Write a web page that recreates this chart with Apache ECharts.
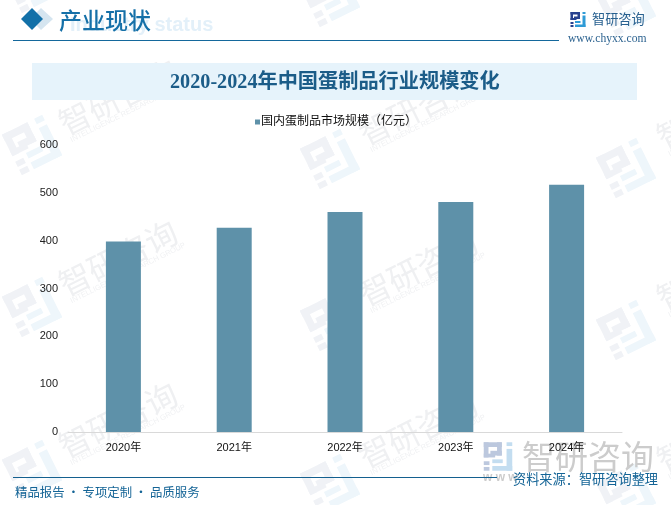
<![CDATA[<!DOCTYPE html>
<html><head><meta charset="utf-8">
<style>html,body{margin:0;padding:0;background:#fff}#c{width:671px;height:505px}</style>
<script src="https://cdn.jsdelivr.net/npm/echarts@6/dist/echarts.min.js"></script>
</head><body><div id="c"></div>
<script>
const categories = ['2020年','2021年','2022年','2023年','2024年'];
const seriesName = '国内蛋制品市场规模（亿元）';
const marketSize = [398, 427, 460, 481, 517];
const chartTitle = '2020-2024年中国蛋制品行业规模变化';
const headerText = '产业现状';
const headerEnglish = 'Industry status';
const brandName = '智研咨询';
const brandSub = 'INTELLIGENCE RESEARCH GROUP';
const siteUrl = 'www.chyxx.com';
const footerLeft = '精品报告 · 专项定制 · 品质服务';
const footerRight = '资料来源：智研咨询整理';

const CJK = '"Liberation Sans","Noto Sans CJK SC",sans-serif';
const SERIF = '"Liberation Serif","Noto Sans CJK SC",serif';

function logoShapes(c1, c2) {
  const r = (x, y, w, h, f) => ({type: 'rect', shape: {x: x - 15, y: y - 15, width: w, height: h}, style: {fill: f}, silent: true});
  return [
    r(0, 0, 19, 5, c1), r(0, 0, 5, 16, c1), r(14, 0, 5, 14, c1), r(0, 12, 12, 4, c1),
    r(7, 9, 12, 5, c1), r(0, 20, 6, 4, c1), r(0, 26, 6, 4, c1),
    r(24, 0, 6, 4, c2), r(24, 7, 6, 23, c2), r(9, 25, 21, 5, c2), r(9, 18, 11, 4, c2)
  ];
}
function logo(x, y, s, rot, c1, c2) {
  return {type: 'group', x, y, scaleX: s, scaleY: s, rotation: rot, silent: true, children: logoShapes(c1, c2)};
}
function txt(x, y, text, font, fill, align, rot) {
  return {type: 'text', x, y, rotation: rot || 0, silent: true,
    style: {text, font, fill, align: align || 'left', verticalAlign: 'middle'}};
}

const graphics = [];
const ROT = 0.46;
const logoCols = [[32, 0], [330, 14], [626, 23]];
const rowYs = [-17, 145, 307, 470];
logoCols.forEach(([lx, dy]) => rowYs.forEach(ry => {
  graphics.push(logo(lx, ry + dy, 1.5, ROT, '#f0f2f6', '#eef6fb'));
}));
const textCols = [[118, 0], [418, 10], [716, 14]];
const textRows = [-64, 97, 258, 420];
textCols.forEach(([tx, dy]) => textRows.forEach(ty => {
  graphics.push(txt(tx, ty + dy, brandName, '32px "Noto Sans CJK SC"', '#eff0f2', 'center', ROT));
  graphics.push(txt(tx + 10, ty + dy + 15, brandSub, '7.5px "Liberation Sans"', '#f0f1f3', 'center', ROT));
}));

// header
graphics.push({type: 'polygon', silent: true, shape: {points: [[41, 8], [53, 19], [41, 30], [30, 19]]}, style: {fill: '#d5e5f0'}});
graphics.push({type: 'polygon', silent: true, shape: {points: [[32, 8], [43, 19], [32, 30], [21, 19]]}, style: {fill: '#1270a8'}});
graphics.push(txt(70, 25, headerEnglish, 'bold 20px "Liberation Sans"', '#e3f0f9'));
graphics.push(txt(59, 20, headerText, '500 23px "Noto Sans CJK SC"', '#1570a8'));
graphics.push({type: 'rect', silent: true, shape: {x: 13, y: 40, width: 546, height: 1}, style: {fill: '#14689c'}});
graphics.push(logo(578, 19.5, 0.5, 0, '#27418f', '#2f9bd6'));
graphics.push(txt(592, 19, brandName, '13.2px "Noto Sans CJK SC"', '#27608f'));
graphics.push(txt(568, 39, siteUrl, '11.6px "Liberation Serif"', '#2d6390'));

// title band
graphics.push({type: 'rect', silent: true, shape: {x: 32, y: 63, width: 605, height: 37}, style: {fill: '#e6f3fb'}});
graphics.push(txt(170, 83, chartTitle, 'bold 20.2px ' + SERIF, '#1b5c88'));

// lower right watermark
graphics.push(logo(498, 456.5, 0.95, 0, '#bcc8de', '#c3ddf0'));
graphics.push(txt(522, 456, brandName, '33px "Noto Sans CJK SC"', '#cccccc'));
graphics.push(txt(483, 478, 'w w w', 'bold 12px "Liberation Sans"', '#cccccc'));

// footer
graphics.push({type: 'rect', silent: true, shape: {x: 13, y: 477, width: 484, height: 1}, style: {fill: '#14608f'}});
graphics.push(txt(15, 492, footerLeft, '12.4px "Noto Sans CJK SC"', '#146496'));
graphics.push(txt(513, 479, footerRight, '13.2px "Noto Sans CJK SC"', '#146496'));

const chart = echarts.init(document.getElementById('c'), null, {renderer: 'canvas'});
chart.setOption({
  animation: false,
  backgroundColor: '#fff',
  graphic: {elements: graphics},
  legend: {
    data: [seriesName], top: 116, left: 255, padding: 0,
    itemWidth: 5, itemHeight: 5, itemGap: 0, icon: 'rect', selectedMode: false,
    textStyle: {fontFamily: CJK, fontSize: 12, color: '#111', padding: [0, 0, 0, -4]}
  },
  grid: {left: 68, right: 49, top: 145, bottom: 73, containLabel: false},
  xAxis: {
    type: 'category', data: categories,
    axisLine: {show: true, lineStyle: {color: '#d9d9d9', width: 1}},
    axisTick: {show: false},
    axisLabel: {margin: 10, fontFamily: CJK, fontSize: 11, color: '#111'}
  },
  yAxis: {
    type: 'value', min: 0, max: 600, interval: 100,
    axisLine: {show: false}, axisTick: {show: false}, splitLine: {show: false},
    axisLabel: {margin: 10, fontFamily: CJK, fontSize: 11, color: '#222', padding: [4, 0, 0, 0]}
  },
  series: [{
    name: seriesName, type: 'bar', data: marketSize, barWidth: 35,
    itemStyle: {color: '#5e91a9'}
  }]
});
</script></body></html>]]>
